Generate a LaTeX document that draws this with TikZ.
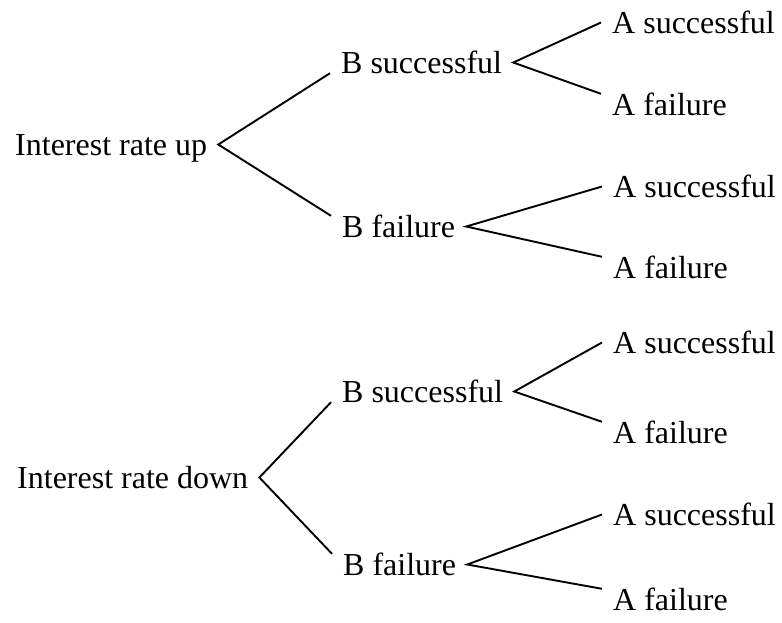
\documentclass[tikz,border=0pt]{standalone}
\usepackage{fontspec}
\setmainfont{Liberation Serif}
\begin{document}
\begin{tikzpicture}[x=1pt, y=-1pt,
  outcome/.style={anchor=base west, inner xsep=11pt, inner ysep=0pt,
    text height=21pt, text depth=0pt, font=\fontsize{32}{38}\selectfont},
  fork/.style={line width=1.9pt}]
\useasboundingbox (0,0) rectangle (782,622);

% Interest rate up
\node[outcome] (up) at (4,155) {Interest rate up};
\node[outcome] (upBs) at (330,73) {B successful};
\node[outcome] (upBf) at (331,237) {B failure};
\node[outcome] (upBsAs) at (601,33) {A successful};
\node[outcome] (upBsAf) at (601,115) {A failure};
\node[outcome] (upBfAs) at (602,197) {A successful};
\node[outcome] (upBfAf) at (602,278) {A failure};

% Interest rate down
\node[outcome] (down) at (6,488) {Interest rate down};
\node[outcome] (downBs) at (331,402) {B successful};
\node[outcome] (downBf) at (332,575) {B failure};
\node[outcome] (downBsAs) at (602,353) {A successful};
\node[outcome] (downBsAf) at (602,443) {A failure};
\node[outcome] (downBfAs) at (602,525) {A successful};
\node[outcome] (downBfAf) at (602,610) {A failure};

% The forks
\draw[fork] (upBs.south west) -- (up.east) -- (upBf.north west);
\draw[fork] (upBsAs.west) -- (upBs.east) -- (upBsAf.north west);
\draw[fork] (upBfAs.west) -- (upBf.east) -- (upBfAf.north west);
\draw[fork] (downBs.south west) -- (down.east) -- (downBf.north west);
\draw[fork] (downBsAs.west) -- (downBs.east) -- (downBsAf.north west);
\draw[fork] (downBfAs.west) -- (downBf.east) -- (downBfAf.north west);
\end{tikzpicture}
\end{document}
